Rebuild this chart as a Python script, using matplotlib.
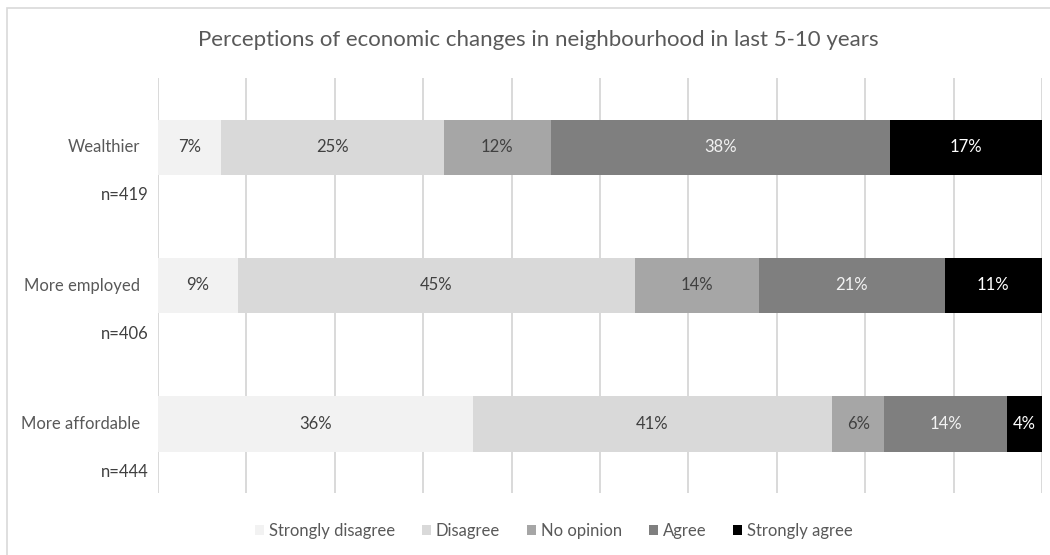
import matplotlib
matplotlib.use("Agg")
import matplotlib.pyplot as plt
from matplotlib.patches import Rectangle, Patch
import numpy as np

plt.rcParams['font.family'] = ['Lato', 'DejaVu Sans']

categories = ["Wealthier", "More employed", "More affordable"]
sample_sizes = ["n=419", "n=406", "n=444"]
responses = ["Strongly disagree", "Disagree", "No opinion", "Agree", "Strongly agree"]
strongly_disagree = [7, 9, 36]
disagree = [25, 45, 41]
no_opinion = [12, 14, 6]
agree = [38, 21, 14]
strongly_agree = [17, 11, 4]

colors = ["#F2F2F2", "#D9D9D9", "#A6A6A6", "#7F7F7F", "#000000"]
label_colors = ["#404040", "#404040", "#404040", "#F2F2F2", "#FFFFFF"]

series = np.array([strongly_disagree, disagree, no_opinion, agree, strongly_agree], dtype=float)
shares = series / series.sum(axis=0) * 100  # 100% stacked

fig = plt.figure(figsize=(10.5, 5.55), dpi=100)
fig.patches.append(Rectangle((7 / 1050, -0.1), 1.2, 1 - 8 / 555 + 0.1,
                             transform=fig.transFigure, fill=False,
                             edgecolor="#D9D9D9", linewidth=1.2))

ax = fig.add_axes([158 / 1050, 1 - 493 / 555, (1042 - 158) / 1050, (493 - 78) / 555])
y = np.arange(len(categories))
left = np.zeros(len(categories))
for i, name in enumerate(responses):
    ax.barh(y, shares[i], left=left, height=0.4, color=colors[i], label=name, zorder=2)
    for j in range(len(categories)):
        ax.text(left[j] + shares[i][j] / 2, y[j], f"{int(series[i][j])}%",
                ha="center", va="center", fontsize=12, color=label_colors[i], zorder=3)
    left += shares[i]

ax.set_xlim(0, 100)
ax.set_ylim(2.5, -0.5)
ax.set_xticks(np.arange(0, 101, 10))
ax.xaxis.grid(True, color="#D9D9D9", linewidth=1.4, zorder=0)
ax.tick_params(axis="x", length=0, labelbottom=False)
ax.tick_params(axis="y", length=0, labelleft=False)
for s in ax.spines.values():
    s.set_visible(False)

for j, (cat, n) in enumerate(zip(categories, sample_sizes)):
    ax.text(-0.02, y[j], cat, transform=ax.get_yaxis_transform(), ha="right",
            va="center", fontsize=12, color="#595959")
    ax.text(-0.011, y[j] + 0.347, n, transform=ax.get_yaxis_transform(), ha="right",
            va="center", fontsize=12, color="#404040")

fig.text(538 / 1050, 1 - 40 / 555, "Perceptions of economic changes in neighbourhood in last 5-10 years",
         ha="center", va="center", fontsize=16, color="#595959")

handles = [Patch(facecolor=c, edgecolor="none") for c in colors]
fig.legend(handles, responses, loc="center", bbox_to_anchor=(554 / 1050, 1 - 531 / 555),
           ncol=5, frameon=False, fontsize=12, labelcolor="#595959",
           handlelength=0.55, handleheight=0.55, handletextpad=0.3, columnspacing=1.6)

fig.savefig("out.png", dpi=100)
